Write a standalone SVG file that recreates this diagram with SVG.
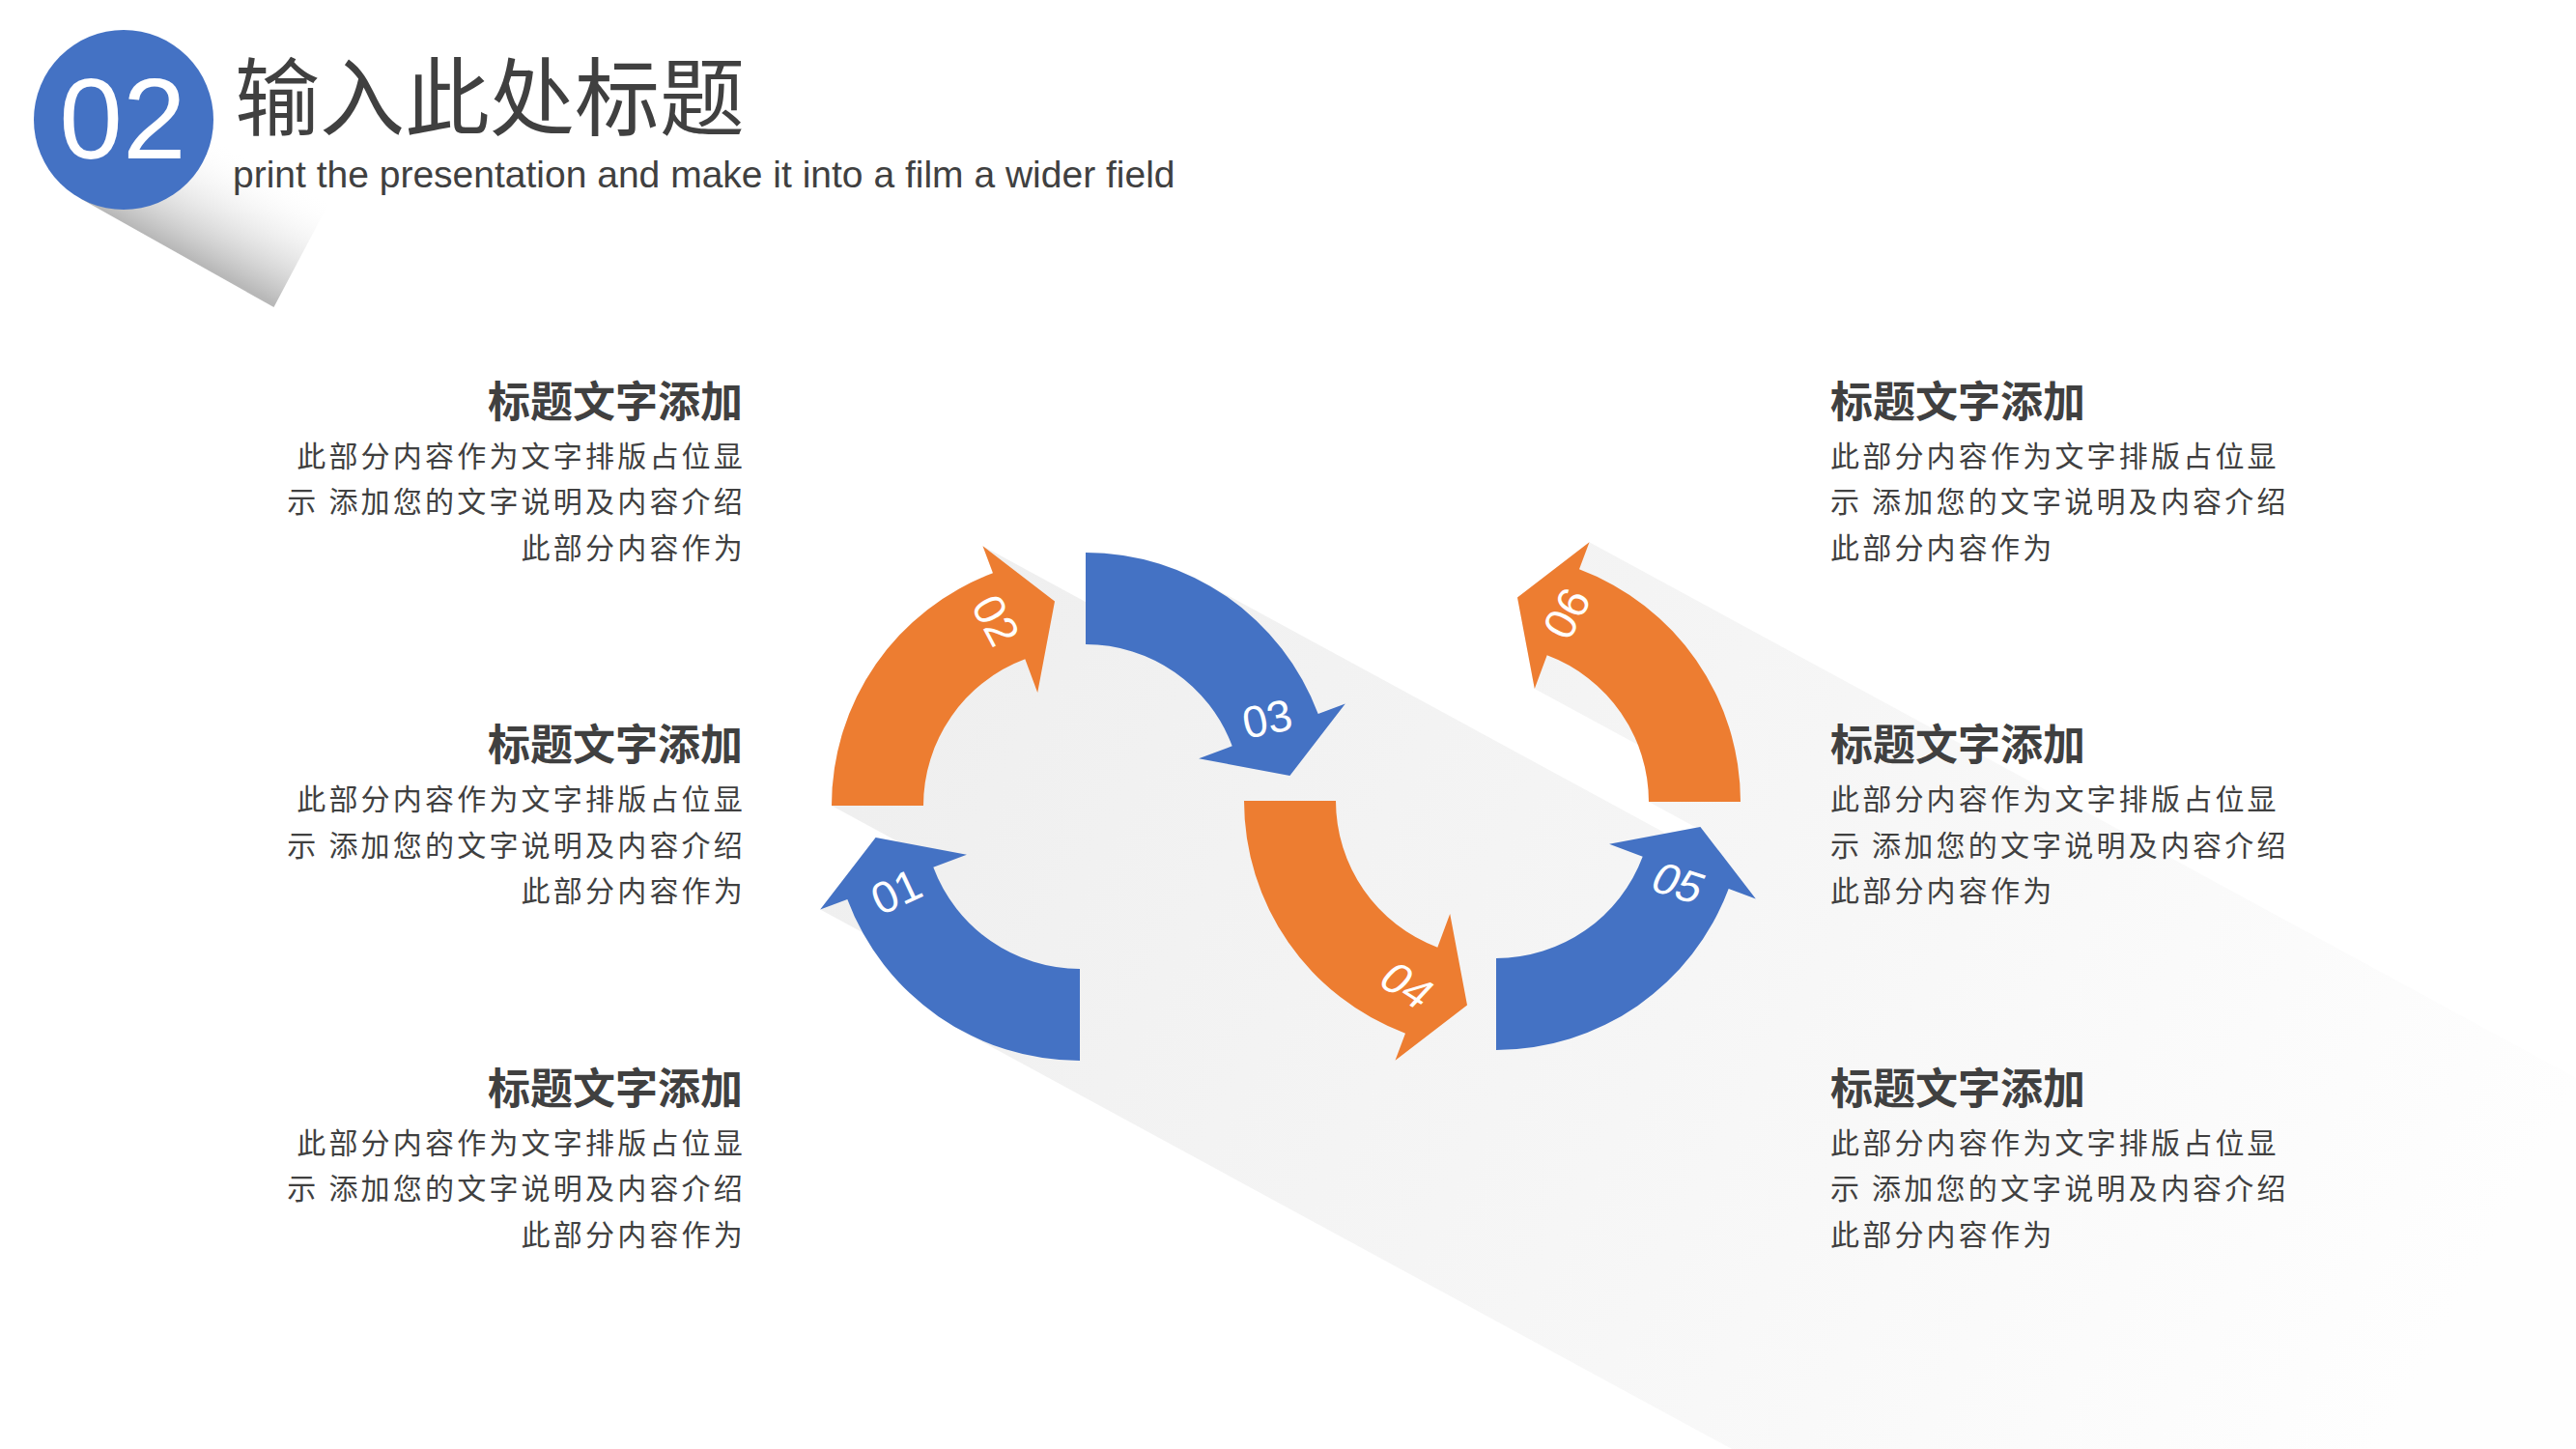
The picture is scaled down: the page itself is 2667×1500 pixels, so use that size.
<svg xmlns="http://www.w3.org/2000/svg" width="2667" height="1500" viewBox="0 0 2667 1500">
<defs>
<style>
.blue{fill:#4472C4}
.orange{fill:#ED7D31}
.sh{fill:url(#shGrad)}
.lbl{font-family:"Liberation Sans",Arial,sans-serif;font-size:46px;fill:#ffffff;text-anchor:middle}
.ttl{font-family:"Noto Sans CJK SC","Microsoft YaHei",sans-serif;font-size:44px;font-weight:bold;fill:#404040}
.body{font-family:"Noto Sans CJK SC","Microsoft YaHei",sans-serif;font-size:30px;letter-spacing:3.2px;fill:#404040}
.l{text-anchor:end}
</style>
<linearGradient id="shGrad" gradientUnits="userSpaceOnUse" x1="1000" y1="620" x2="2500" y2="1435">
<stop offset="0" stop-color="#efefef"/>
<stop offset="0.5" stop-color="#f6f6f6"/>
<stop offset="1" stop-color="#fefefe"/>
</linearGradient>
<linearGradient id="hdGrad" gradientUnits="userSpaceOnUse" x1="185.5" y1="261" x2="274.3" y2="97.6">
<stop offset="0" stop-color="#b8b8b8" stop-opacity="1"/>
<stop offset="0.65" stop-color="#ffffff" stop-opacity="0"/>
</linearGradient>
</defs>
<rect x="0" y="0" width="2667" height="1500" fill="#ffffff"/>

<g id="header">
<polygon points="172.4,42.3 372,151 283.5,318 83.6,205.7" fill="url(#hdGrad)"/>
<circle cx="128" cy="124" r="93" fill="#4472C4"/>
<text x="127" y="164" font-family="'Liberation Sans',Arial,sans-serif" font-size="118" fill="#ffffff" text-anchor="middle">02</text>
<text x="243" y="133" font-family="'Noto Sans CJK SC','Microsoft YaHei',sans-serif" font-size="88" fill="#404040">输入此处标题</text>
<text x="241" y="194" font-family="'Liberation Sans',Arial,sans-serif" font-size="39" fill="#404040">print the presentation and make it into a film a wider field</text>
</g>

<g id="shadows">
<path class="sh" d="M966.3,897.7 L877.3,931.0 A257,257 0 0 0 995.4,1066.9 L2928.8,2116.7 L2899.7,1947.5 Z"/>
<path class="sh" d="M1000.9,884.8 L906.6,867.0 L849.2,941.5 L2782.6,1991.3 L2934.3,1934.6 Z"/>
<path class="sh" d="M1028.0,593.3 A257,257 0 0 0 861,834 L2794.4,1883.8 L2961.4,1643.1 Z"/>
<path class="sh" d="M1017.5,565.2 L1074.2,716.9 L3007.6,1766.7 L2950.9,1615.0 Z"/>
<path class="sh" d="M1246.6,603.1 A257,257 0 0 0 1124,572 L1124,667 L1259.9,740.8 A162,162 0 0 1 1275.7,772.3 L3209.1,1822.1 L3180.0,1652.9 Z"/>
<path class="sh" d="M1392.8,728.5 L1241.1,785.2 L3174.5,1835.0 L3326.2,1778.3 Z"/>
<path class="sh" d="M1383,829 L1288,829 A257,257 0 0 0 1422.4,1054.9 L3355.8,2104.7 L3316.4,1878.8 Z"/>
<path class="sh" d="M1501.2,946.1 L1444.5,1097.8 L3377.9,2147.6 L3434.6,1995.9 Z"/>
<path class="sh" d="M1789.7,920.0 L1700.7,886.7 A162,162 0 0 1 1549,992 L1549,1087 L3482.4,2136.8 L3723.1,1969.8 Z"/>
<path class="sh" d="M1760.4,856.0 L1666.1,873.8 L3599.5,1923.6 L3693.8,1905.8 Z"/>
<path class="sh" d="M1667.6,604.1 A257,257 0 0 0 1635.0,589.3 L1601.7,678.3 A162,162 0 0 1 1707,830 L3640.4,1879.8 L3601.0,1653.9 Z"/>
<path class="sh" d="M1645.5,561.2 L1571.0,618.6 L1588.8,712.9 L3522.2,1762.7 L3578.9,1611.0 Z"/>
</g>

<g id="arrow01">
<path class="blue" d="M1118,1098 A257,257 0 0 1 877.3,931.0 L849.2,941.5 L906.6,867.0 L1000.9,884.8 L966.3,897.7 A162,162 0 0 0 1118,1003 Z"/>
<text class="lbl" transform="translate(928,923) rotate(-25)" y="16">01</text>
</g>
<g id="arrow02">
<path class="orange" d="M861,834 A257,257 0 0 1 1028.0,593.3 L1017.5,565.2 L1092.0,622.6 L1074.2,716.9 L1061.3,682.3 A162,162 0 0 0 956,834 Z"/>
<text class="lbl" transform="translate(1031,642) rotate(62)" y="16">02</text>
</g>
<g id="arrow03">
<path class="blue" d="M1124,572 A257,257 0 0 1 1364.7,739.0 L1392.8,728.5 L1335.4,803.0 L1241.1,785.2 L1275.7,772.3 A162,162 0 0 0 1124,667 Z"/>
<text class="lbl" transform="translate(1312,744) rotate(-12)" y="16">03</text>
</g>
<g id="arrow04">
<path class="orange" d="M1288,829 A257,257 0 0 0 1455.0,1069.7 L1444.5,1097.8 L1519.0,1040.4 L1501.2,946.1 L1488.3,980.7 A162,162 0 0 1 1383,829 Z"/>
<text class="lbl" transform="translate(1457,1020) rotate(33) skewX(-10)" y="16">04</text>
</g>
<g id="arrow05">
<path class="blue" d="M1549,1087 A257,257 0 0 0 1789.7,920.0 L1817.8,930.5 L1760.4,856.0 L1666.1,873.8 L1700.7,886.7 A162,162 0 0 1 1549,992 Z"/>
<text class="lbl" transform="translate(1738,914) rotate(18) skewX(-10)" y="16">05</text>
</g>
<g id="arrow06">
<path class="orange" d="M1802,830 A257,257 0 0 0 1635.0,589.3 L1645.5,561.2 L1571.0,618.6 L1588.8,712.9 L1601.7,678.3 A162,162 0 0 1 1707,830 Z"/>
<text class="lbl" transform="translate(1622,635) rotate(-62)" y="16">06</text>
</g>

<g id="text-left-1">
<text class="ttl l" x="769" y="432">标题文字添加</text>
<text class="body l" x="772" y="482.5">此部分内容作为文字排版占位显</text>
<text class="body l" x="772" y="530.2">示 添加您的文字说明及内容介绍</text>
<text class="body l" x="772" y="577.8">此部分内容作为</text>
</g>
<g id="text-left-2">
<text class="ttl l" x="769" y="787.2">标题文字添加</text>
<text class="body l" x="772" y="838">此部分内容作为文字排版占位显</text>
<text class="body l" x="772" y="885.7">示 添加您的文字说明及内容介绍</text>
<text class="body l" x="772" y="933.3">此部分内容作为</text>
</g>
<g id="text-left-3">
<text class="ttl l" x="769" y="1142.7">标题文字添加</text>
<text class="body l" x="772" y="1193.5">此部分内容作为文字排版占位显</text>
<text class="body l" x="772" y="1241.1">示 添加您的文字说明及内容介绍</text>
<text class="body l" x="772" y="1288.8">此部分内容作为</text>
</g>
<g id="text-right-1">
<text class="ttl" x="1895" y="432">标题文字添加</text>
<text class="body" x="1895" y="482.5">此部分内容作为文字排版占位显</text>
<text class="body" x="1895" y="530.2">示 添加您的文字说明及内容介绍</text>
<text class="body" x="1895" y="577.8">此部分内容作为</text>
</g>
<g id="text-right-2">
<text class="ttl" x="1895" y="787.2">标题文字添加</text>
<text class="body" x="1895" y="838">此部分内容作为文字排版占位显</text>
<text class="body" x="1895" y="885.7">示 添加您的文字说明及内容介绍</text>
<text class="body" x="1895" y="933.3">此部分内容作为</text>
</g>
<g id="text-right-3">
<text class="ttl" x="1895" y="1142.7">标题文字添加</text>
<text class="body" x="1895" y="1193.5">此部分内容作为文字排版占位显</text>
<text class="body" x="1895" y="1241.1">示 添加您的文字说明及内容介绍</text>
<text class="body" x="1895" y="1288.8">此部分内容作为</text>
</g>
</svg>
